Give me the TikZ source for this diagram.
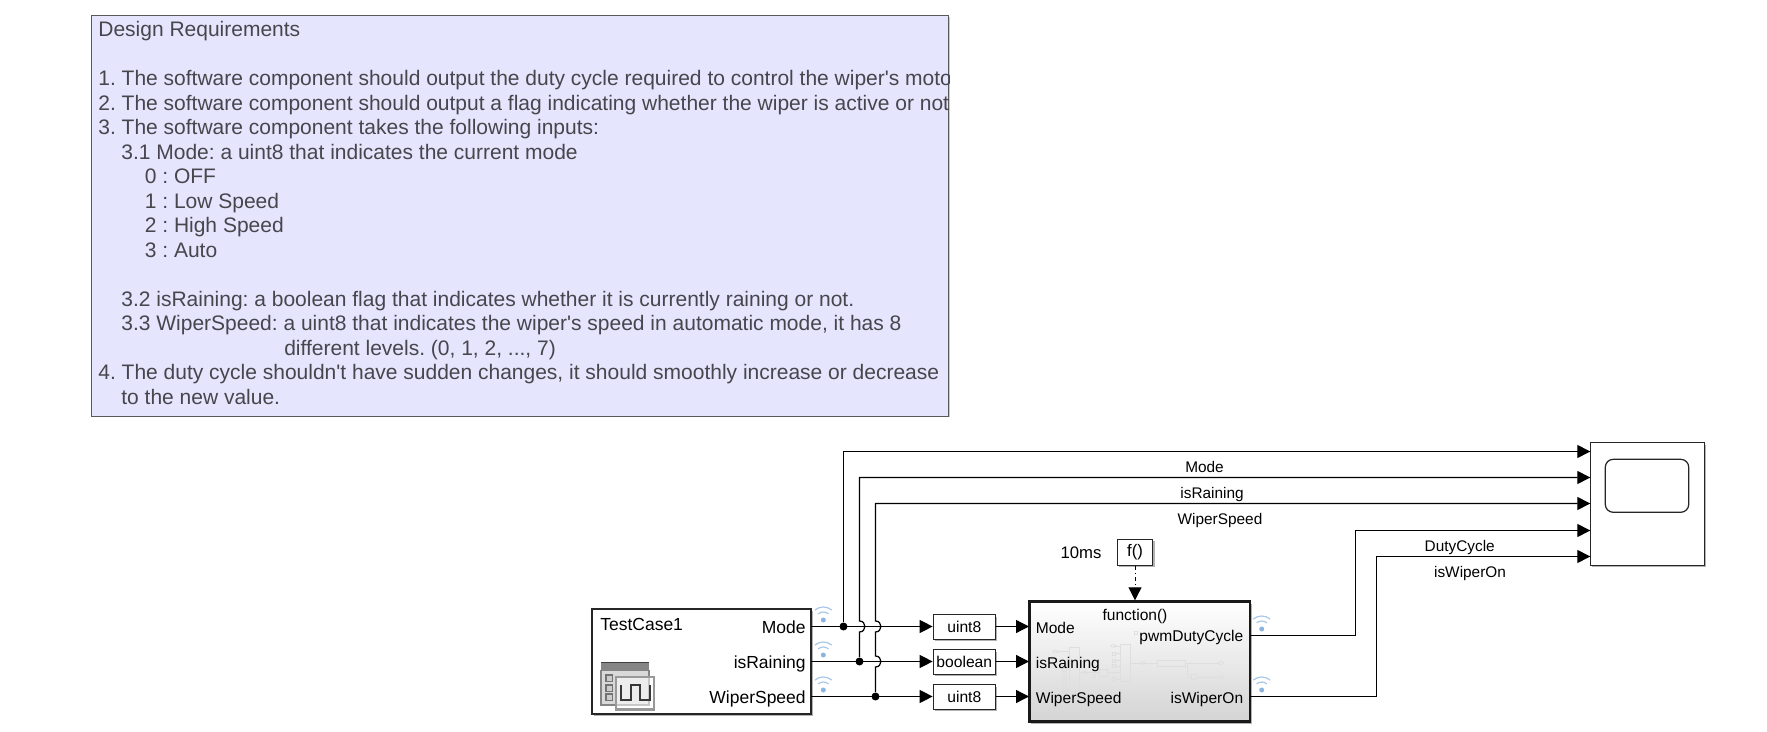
\documentclass[tikz,border=0pt]{standalone}
\usepackage{fontspec}
\setmainfont{Liberation Sans}[Ligatures=TeXOff]
\usetikzlibrary{arrows.meta,positioning,calc,shadows}
\definecolor{notefill}{RGB}{229,229,254}
\definecolor{notetext}{RGB}{70,70,76}
\definecolor{wifiblue}{RGB}{170,200,232}
\definecolor{wifidot}{RGB}{140,180,224}
\newcommand{\hop}[2]{-- (#1,#2+5.5) .. controls +(7.2,0) and +(7.2,0) .. (#1,#2-5.5)}
\newcommand{\fsize}[1]{\fontsize{#1}{#1}\selectfont}
\tikzset{
  sig/.style={line width=.7pt},
  sigarrow/.style={sig,-{Triangle[length=.26cm,width=.26cm]}},
  shadowed/.style={drop shadow={shadow xshift=.04cm,shadow yshift=-.04cm,opacity=.3,fill=black}},
  block/.style={rectangle,draw=black!85,fill=white,line width=.75pt,inner sep=0pt,shadowed},
  conv/.style={block,minimum width=1.24cm,minimum height=.49cm,font=\fsize{8.9}},
  lbl/.style={inner sep=0pt,font=\fsize{9.95}},
  sublbl/.style={inner sep=0pt,font=\fsize{8.85}},
  siglbl/.style={inner sep=0pt,anchor=base,font=\fsize{8.75}},
  junction/.style={circle,fill=black,inner sep=0pt,minimum size=.16cm},
  faint/.style={draw=black!13,line width=.4pt},
  wifi/.pic={
    \fill[wifidot] (0,0) circle (.05cm);
    \draw[wifiblue,line width=.7pt] (0,0) ++(130:.16cm) arc[start angle=130,end angle=50,radius=.16cm];
    \draw[wifiblue,line width=.7pt] (0,0) ++(130:.26cm) arc[start angle=130,end angle=50,radius=.26cm];
  }
}
\begin{document}
\begin{tikzpicture}[x=.02cm,y=-.02cm]
  \useasboundingbox (0,0) rectangle (1767,732);

  \node[rectangle,draw=black!65,fill=notefill,line width=.6pt,inner sep=0pt,minimum width=17.16cm,minimum height=8.02cm,drop shadow={shadow xshift=.02cm,shadow yshift=-.02cm,opacity=.2,fill=black}] (reqbox) at (520,216) {};
  \begin{scope}
    \clip (reqbox.south west) rectangle (reqbox.north east);
    \node[anchor=north west,inner sep=0pt,align=left,text=notetext,font=\fontsize{11.95}{13.95}\selectfont\frenchspacing] (reqtext) at (98,21.2) {
      Design Requirements\\
      \mbox{}\\
      1. The software component should output the duty cycle required to control the wiper's moto\\
      2. The software component should output a flag indicating whether the wiper is active or not\\
      3. The software component takes the following inputs:\\
      \hspace*{.46cm}3.1 Mode: a uint8 that indicates the current mode\\
      \hspace*{.93cm}0 : OFF\\
      \hspace*{.93cm}1 : Low Speed\\
      \hspace*{.93cm}2 : High Speed\\
      \hspace*{.93cm}3 : Auto\\
      \mbox{}\\
      \hspace*{.46cm}3.2 isRaining: a boolean flag that indicates whether it is currently raining or not.\\
      \hspace*{.46cm}3.3 WiperSpeed: a uint8 that indicates the wiper's speed in automatic mode, it has 8\\
      \hspace*{3.72cm}different levels. (0, 1, 2, ..., 7)\\
      4. The duty cycle shouldn't have sudden changes, it should smoothly increase or decrease\\
      \hspace*{.46cm}to the new value.
    };
  \end{scope}

  % test case block
  \node[block,minimum width=4.38cm,minimum height=2.1cm] (testcase) at (701.5,661.5) {};
  \node[lbl,anchor=base west] (tcname) at (600,630) {TestCase1};
  \node[lbl,anchor=base east] (tcmode) at (806,633) {Mode};
  \node[lbl,anchor=base east] (tcrain) at (806,668.3) {isRaining};
  \node[lbl,anchor=base east] (tcspeed) at (806,703.3) {WiperSpeed};
  \fill[black!15] (601,662) rectangle (649,705);
  \draw[black!48,line width=1pt] (601,670) -- (601,705) -- (649,705) -- (649,670);
  \fill[black!48] (601,663) rectangle (649,670.7);
  \draw[black!75,line width=1pt] (601,662.5) -- (649,662.5);
  \foreach \rowy in {675,685,694}
    \draw[black!55,fill=black!20,line width=1pt] (606,\rowy) rectangle +(6.5,6.5);
  \draw[black!40,fill=white,fill opacity=.55,line width=1.2pt] (616,677) rectangle (654,709.5);
  \draw[black!78,line width=1.3pt] (620.7,685) -- (620.7,700) -- (630.7,700) -- (630.7,685) -- (640,685) -- (640,700) -- (650,700) -- (650,685);

  % rate transition and conversions
  \node[conv] (convmode) at (964.3,627) {uint8};
  \node[conv] (convrain) at (964.3,662) {boolean};
  \node[conv] (convspeed) at (964.3,697) {uint8};

  % subsystem
  \node[rectangle,draw=black!90,line width=1.6pt,inner sep=0pt,minimum width=4.41cm,minimum height=2.4cm,top color=white,middle color=white,bottom color=black!17,shadowed] (ctrl) at (1139.7,661.7) {};
  \begin{scope}[faint]
    \draw (1069.3,647.3) rectangle (1079,692.7);
    \draw (1058,651.7) -- (1069.3,651.7);
    \draw (1055.5,651.7) ellipse (.05cm and .025cm);
    \foreach \rowy in {663,668,673,678,683,688}
      \draw (1062.7,\rowy) rectangle +(4,3.6);
    \draw (1080,672.7) -- (1099,672.7);
    \draw (1085,672.7) ellipse (.05cm and .025cm);
    \draw (1092.3,674) rectangle +(2.8,3.3);
    \draw (1099,669.3) rectangle (1107.3,676);
    \draw (1107.3,672.7) -- (1120.7,672.7);
    \draw (1120.7,644.3) rectangle (1130,681.7);
    \draw (1113.5,646) -- (1120.7,646);
    \draw (1113.5,646) ellipse (.05cm and .025cm);
    \foreach \rowy in {652,659,664.5,677.5}
      \draw (1112.3,\rowy) rectangle +(3.3,3.3) (1115.6,\rowy+1.6) -- (1120.7,\rowy+1.6);
    \draw (1130,663) -- (1157.3,663) (1185,663) -- (1218,663);
    \draw (1143,663) ellipse (.05cm and .025cm);
    \draw (1157.3,660) rectangle (1185,666);
    \draw (1187.3,663) -- (1187.3,677) -- (1191.7,677) (1196.7,677) -- (1218,677);
    \draw (1191.7,674.3) rectangle (1196.7,679.3);
    \draw (1221,663) ellipse (.05cm and .03cm);
    \draw (1221,677) ellipse (.05cm and .03cm);
    \draw (1134.5,631.5) rectangle +(3,3);
  \end{scope}
  \node[sublbl,anchor=base west] (inmode) at (1035.5,633.3) {Mode};
  \node[sublbl,anchor=base west] (inrain) at (1035.5,668.3) {isRaining};
  \node[sublbl,anchor=base west] (inspeed) at (1035.5,703) {WiperSpeed};
  \node[sublbl,anchor=base] (fcn) at (1135,620) {function()};
  \node[sublbl,anchor=base east] (outduty) at (1243.5,641) {pwmDutyCycle};
  \node[sublbl,anchor=base east] (outwiper) at (1243.5,703) {isWiperOn};

  \node[block,minimum width=.71cm,minimum height=.52cm,font=\fsize{9.5}] (trigger) at (1135,552.3) {f()};
  \node[inner sep=0pt,anchor=base,font=\fsize{9.5}] (period) at (1081,558.7) {10ms};

  % scope
  \node[block,minimum width=2.28cm,minimum height=2.45cm] (viewer) at (1647.3,504) {};
  \node[rectangle,draw=black!85,line width=.7pt,rounded corners=.16cm,inner sep=0pt,minimum width=1.67cm,minimum height=1.06cm] (screen) at (1647,485.8) {};

  \coordinate (scA) at (1590.3,451.5);
  \coordinate (scB) at (1590.3,477.5);
  \coordinate (scC) at (1590.3,503.5);
  \coordinate (scD) at (1590.3,530.5);
  \coordinate (scE) at (1590.3,556.5);

  \coordinate (tmode) at (811,626.5);
  \coordinate (train) at (811,661.5);
  \coordinate (tspeed) at (811,696.5);
  \coordinate (cmode) at (1029,626.5);
  \coordinate (crain) at (1029,661.5);
  \coordinate (cspeed) at (1029,696.5);
  \coordinate (cduty) at (1250,635.5);
  \coordinate (cwiper) at (1250,696.5);

  \node[junction] (jmode) at (843.5,626.5) {};
  \node[junction] (jrain) at (859.5,661.5) {};
  \node[junction] (jspeed) at (875.5,696.5) {};

  \draw[sigarrow] (tmode) -- (tmode -| convmode.west);
  \draw[sigarrow] (train) -- (train -| convrain.west);
  \draw[sigarrow] (tspeed) -- (tspeed -| convspeed.west);
  \draw[sigarrow] (convmode.east |- cmode) -- (cmode);
  \draw[sigarrow] (convrain.east |- crain) -- (crain);
  \draw[sigarrow] (convspeed.east |- cspeed) -- (cspeed);

  \draw[sigarrow] (jmode) |- (scA);
  \draw[sigarrow] (jrain) \hop{859.5}{626.5} |- (scB);
  \draw[sigarrow] (jspeed) \hop{875.5}{661.5} \hop{875.5}{626.5} |- (scC);
  \draw[sigarrow] (cduty) -| (1355.5,530.5) -- (scD);
  \draw[sigarrow] (cwiper) -| (1376.5,556.5) -- (scE);
  \draw[sigarrow,line width=.55pt,dash pattern=on .08cm off .06cm on .02cm off .06cm] (trigger) -- (trigger |- ctrl.north);

  \node[siglbl] (lblmode) at (1204.5,473) {Mode};
  \node[siglbl] (lblrain) at (1212,498.7) {isRaining};
  \node[siglbl] (lblspeed) at (1220,525) {WiperSpeed};
  \node[siglbl] (lblduty) at (1459.7,551.7) {DutyCycle};
  \node[siglbl] (lblwiper) at (1470,577.3) {isWiperOn};

  \pic at (823.3,620) {wifi};
  \pic at (823.3,655) {wifi};
  \pic at (823.3,690) {wifi};
  \pic at (1261.7,629) {wifi};
  \pic at (1261.7,690) {wifi};
\end{tikzpicture}
\end{document}
